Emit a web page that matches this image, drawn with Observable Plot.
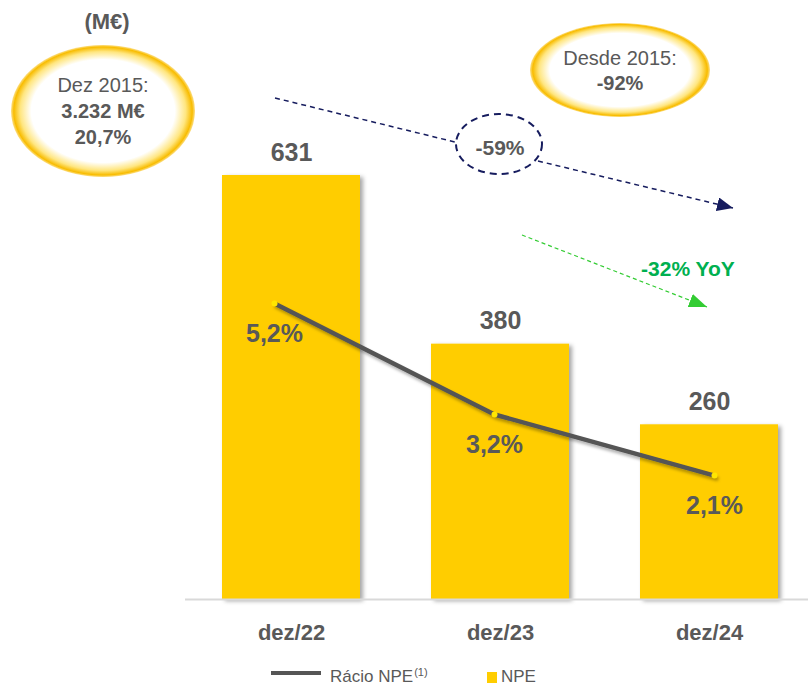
<!DOCTYPE html>
<html><head><meta charset="utf-8">
<script src="https://cdn.jsdelivr.net/npm/d3@7"></script>
<script src="https://cdn.jsdelivr.net/npm/@observablehq/plot@0.6"></script>
<style>
body{margin:0;background:#fff;font-family:"Liberation Sans",Arial,sans-serif;}
#wrap{position:relative;width:808px;height:655px;}
#wrap svg{position:absolute;left:0;top:0;}
#legend{position:relative;width:808px;height:33px;font-size:17px;color:#595959;}
#legend span{position:absolute;}
</style></head><body>
<div id="wrap"></div>
<div id="legend">
  <span style="left:271px;top:16px;width:50px;height:4px;background:#555555"></span>
  <span style="left:330px;top:12px;line-height:20px">Rácio NPE<span style="position:relative;font-size:11px;top:-6px;margin-left:1px">(1)</span></span>
  <span style="left:487px;top:17px;width:10px;height:11px;background:#FFCD00"></span>
  <span style="left:501px;top:12px;line-height:20px">NPE</span>
</div>
<script>
const categories = ["dez/22", "dez/23", "dez/24"];
const npe = [631, 380, 260];
const npeLabels = ["631", "380", "260"];
const ratio = [5.2, 3.2, 2.1];
const ratioLabels = ["5,2%", "3,2%", "2,1%"];
const seriesNames = ["Rácio NPE(1)", "NPE"];

const data = categories.map((c, i) => ({cat: c, npe: npe[i], npeLabel: npeLabels[i], ratio: ratio[i], ratioLabel: ratioLabels[i]}));
const font = '"Liberation Sans", Arial, sans-serif';
const grey = "#595959";

const bars = Plot.plot({
  width: 808, height: 655, marginLeft: 185, marginRight: 0, marginTop: 0, marginBottom: 56,
  style: {fontFamily: font, background: "transparent", overflow: "visible", color: grey},
  x: {domain: categories, range: [221, 780], paddingInner: 0.338, paddingOuter: 0, label: null},
  y: {domain: [0, 631], range: [599, 175], axis: null},
  marks: [
    Plot.barY(data, {x: "cat", y: "npe", fill: "#FFCD00"}),
    Plot.ruleY([0], {stroke: "#d9d9d9", strokeWidth: 2}),
    Plot.axisX({tickSize: 0, tickPadding: 25, fontSize: 22, fontWeight: "bold", label: null}),
    Plot.text(data, {x: "cat", y: "npe", text: "npeLabel", dy: -23, fontSize: 25, fontWeight: "bold", fill: grey})
  ]
});

const line = Plot.plot({
  width: 808, height: 655, margin: 0,
  style: {fontFamily: font, background: "transparent", overflow: "visible", color: grey},
  x: {type: "point", domain: categories, range: [273, 714], padding: 0, axis: null},
  y: {domain: [0, 6], range: [591.6, 258.6], axis: null},
  marks: [
    Plot.line(data, {x: "cat", y: "ratio", stroke: "#555555", strokeWidth: 4.5}),
    Plot.dot(data, {x: "cat", y: "ratio", r: 3, fill: "#FFE600", stroke: "none"}),
    Plot.text(data, {x: "cat", y: "ratio", text: "ratioLabel", dy: 30, fontSize: 25, fontWeight: "bold", fill: grey})
  ]
});

const wrap = document.getElementById("wrap");
wrap.appendChild(bars);
wrap.appendChild(line);

function addDefs(svgEl, id, dx, dy, sd, op) {
  const s = d3.select(svgEl);
  let defs = s.select("defs");
  if (defs.empty()) defs = s.insert("defs", ":first-child");
  const f = defs.append("filter").attr("id", id).attr("x", "-20%").attr("y", "-20%").attr("width", "140%").attr("height", "140%");
  f.append("feDropShadow").attr("dx", dx).attr("dy", dy).attr("stdDeviation", sd).attr("flood-color", "#000").attr("flood-opacity", op);
  return defs;
}
addDefs(bars, "barShadow", 3, 2, 2, 0.35);
d3.select(bars).select('g[aria-label="bar"]').attr("filter", "url(#barShadow)");
const defs = addDefs(line, "lineShadow", 2, 3, 1.5, 0.3);
d3.select(line).select('g[aria-label="line"]').attr("filter", "url(#lineShadow)");

const g = defs.append("radialGradient").attr("id", "glow");
[[0, "#ffffff", 1], [0.78, "#ffffff", 1], [0.9, "#FFE680", 1], [0.97, "#F8BC00", 1], [1, "#FAC830", 0.6]].forEach(([o, c, a]) =>
  g.append("stop").attr("offset", o).attr("stop-color", c).attr("stop-opacity", a));

function marker(id, color, len, wid) {
  defs.append("marker").attr("id", id).attr("viewBox", `0 0 ${len} ${wid}`)
    .attr("refX", len).attr("refY", wid / 2).attr("markerWidth", len).attr("markerHeight", wid)
    .attr("markerUnits", "userSpaceOnUse").attr("orient", "auto")
    .append("path").attr("d", `M0,0L${len},${wid / 2}L0,${wid}Z`).attr("fill", color);
}
const navy = "#161c5e";
marker("arrNavy", navy, 16, 14);
marker("arrGreen", "#33cc33", 18, 14);

const a = d3.select(line).append("g").attr("font-family", font).attr("text-anchor", "middle").attr("dominant-baseline", "central");

a.append("text").attr("x", 107).attr("y", 21).attr("font-size", 22).attr("font-weight", "bold").attr("fill", grey).text("(M€)");

a.append("ellipse").attr("cx", 103).attr("cy", 111).attr("rx", 92).attr("ry", 66).attr("fill", "url(#glow)");
a.append("text").attr("x", 103).attr("y", 85).attr("font-size", 20).attr("fill", grey).text("Dez 2015:");
a.append("text").attr("x", 103).attr("y", 111).attr("font-size", 20).attr("font-weight", "bold").attr("fill", grey).text("3.232 M€");
a.append("text").attr("x", 103).attr("y", 137).attr("font-size", 20).attr("font-weight", "bold").attr("fill", grey).text("20,7%");

a.append("ellipse").attr("cx", 620).attr("cy", 70).attr("rx", 90).attr("ry", 47).attr("fill", "url(#glow)");
a.append("text").attr("x", 620).attr("y", 58).attr("font-size", 20).attr("fill", grey).text("Desde 2015:");
a.append("text").attr("x", 620).attr("y", 83).attr("font-size", 20).attr("font-weight", "bold").attr("fill", grey).text("-92%");

a.append("line").attr("x1", 275).attr("y1", 98).attr("x2", 455).attr("y2", 142)
  .attr("stroke", navy).attr("stroke-width", 1.5).attr("stroke-dasharray", "5 4");
a.append("line").attr("x1", 538).attr("y1", 161).attr("x2", 733).attr("y2", 208)
  .attr("stroke", navy).attr("stroke-width", 1.5).attr("stroke-dasharray", "5 4").attr("marker-end", "url(#arrNavy)");
a.append("ellipse").attr("cx", 499).attr("cy", 144).attr("rx", 43).attr("ry", 30)
  .attr("fill", "none").attr("stroke", navy).attr("stroke-width", 2).attr("stroke-dasharray", "7 5");
a.append("text").attr("x", 500).attr("y", 147).attr("font-size", 21).attr("font-weight", "bold").attr("fill", grey).text("-59%");

a.append("line").attr("x1", 522).attr("y1", 235).attr("x2", 707).attr("y2", 307)
  .attr("stroke", "#33cc33").attr("stroke-width", 1.2).attr("stroke-dasharray", "4 3").attr("marker-end", "url(#arrGreen)");
a.append("text").attr("x", 688).attr("y", 268).attr("font-size", 21).attr("font-weight", "bold").attr("fill", "#00b050").text("-32% YoY");
</script>
</body></html>
